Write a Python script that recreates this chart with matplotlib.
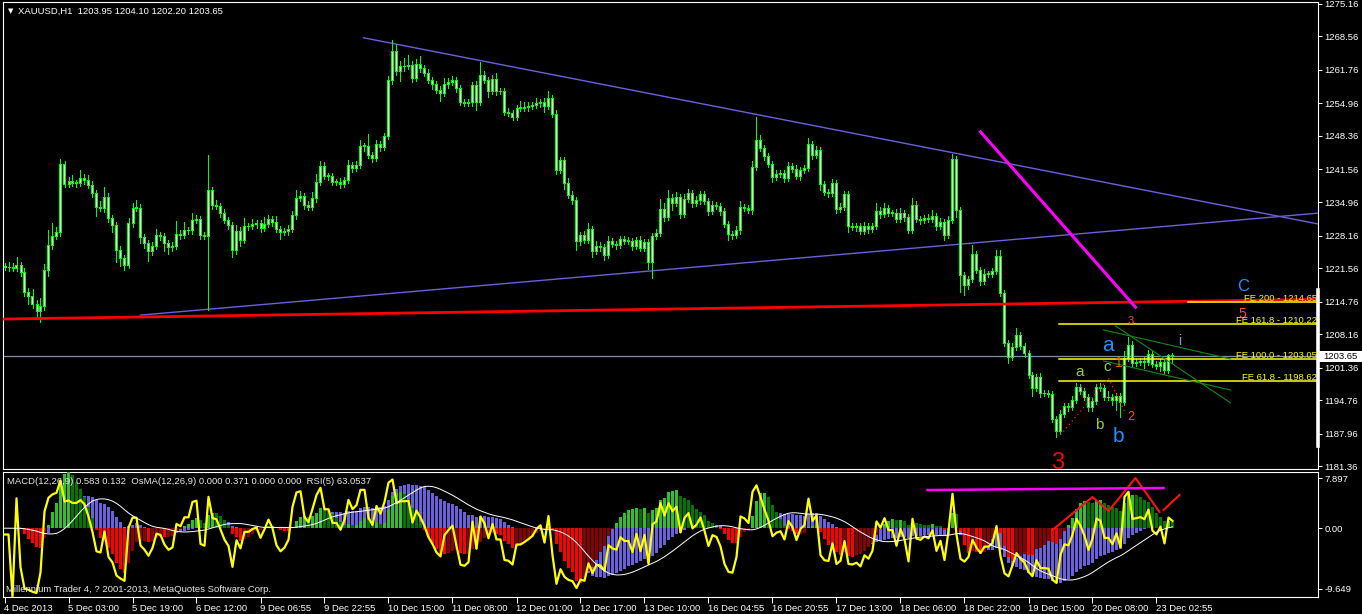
import matplotlib
matplotlib.use("Agg")
import matplotlib.pyplot as plt
from matplotlib.patches import Rectangle
from matplotlib.transforms import blended_transform_factory
import numpy as np
import pandas as pd

# XAUUSD H1, 4 Dec - 23 Dec 2013, closes (one value per bar)
closes = [
    1221.8, 1221.8, 1221.6, 1222.2, 1220.8, 1216.7, 1215.9, 1214.3, 1212.9, 1213.9, 1221.2, 1226.3, 1228.1, 1228.9, 1242.7, 1238.6,
    1239.3, 1238.9, 1238.9, 1239.9, 1239.5, 1238.4, 1236.8, 1234.0, 1233.8, 1236.0, 1231.7, 1230.3, 1225.3, 1223.6, 1222.2, 1230.7,
    1233.8, 1233.8, 1227.9, 1226.7, 1225.0, 1226.1, 1228.3, 1228.1, 1226.7, 1225.9, 1226.1, 1228.5, 1228.3, 1229.3, 1229.3, 1231.3,
    1231.5, 1228.3, 1228.1, 1237.4, 1234.4, 1234.2, 1232.8, 1231.3, 1230.3, 1225.3, 1229.1, 1227.3, 1230.1, 1230.1, 1230.5, 1230.7,
    1229.7, 1230.5, 1231.5, 1230.9, 1229.5, 1228.9, 1229.1, 1229.5, 1232.4, 1235.8, 1236.2, 1234.4, 1234.0, 1235.8, 1239.1, 1242.3,
    1240.3, 1240.3, 1239.1, 1239.1, 1238.6, 1239.5, 1242.5, 1241.9, 1242.5, 1246.4, 1246.4, 1244.5, 1243.9, 1246.8, 1246.2, 1248.4,
    1259.8, 1265.6, 1261.6, 1262.6, 1262.6, 1262.8, 1260.2, 1263.0, 1262.2, 1261.2, 1259.8, 1258.9, 1257.7, 1257.1, 1258.9, 1259.4,
    1259.8, 1258.1, 1255.3, 1255.1, 1255.3, 1258.7, 1255.3, 1260.8, 1259.8, 1257.5, 1260.0, 1257.5, 1257.5, 1253.3, 1253.1, 1252.2,
    1254.1, 1254.1, 1254.3, 1254.5, 1254.7, 1255.1, 1255.3, 1254.5, 1256.1, 1252.9, 1241.5, 1243.5, 1238.9, 1236.4, 1235.4, 1227.1,
    1228.3, 1227.3, 1229.5, 1225.0, 1226.1, 1225.9, 1224.2, 1227.1, 1226.5, 1226.3, 1227.5, 1227.1, 1227.1, 1226.1, 1227.3, 1225.7,
    1226.9, 1222.8, 1228.1, 1228.7, 1233.6, 1232.0, 1235.8, 1234.8, 1236.0, 1232.6, 1235.6, 1236.8, 1234.8, 1235.4, 1236.6, 1235.2,
    1233.2, 1234.4, 1234.2, 1233.2, 1230.5, 1228.5, 1228.3, 1229.3, 1234.0, 1233.8, 1233.4, 1242.1, 1247.6, 1246.0, 1244.3, 1242.7,
    1240.1, 1240.7, 1240.9, 1239.9, 1242.3, 1241.7, 1240.3, 1241.5, 1241.9, 1246.8, 1244.5, 1245.5, 1238.6, 1237.0, 1236.8, 1238.9,
    1233.6, 1234.0, 1236.6, 1230.1, 1229.9, 1230.1, 1229.1, 1230.1, 1229.5, 1230.1, 1233.2, 1232.6, 1233.8, 1232.8, 1232.8, 1231.5,
    1232.8, 1232.0, 1229.3, 1234.4, 1231.5, 1231.3, 1231.7, 1231.5, 1232.2, 1230.1, 1230.9, 1228.3, 1231.3, 1243.7, 1233.4, 1220.2,
    1218.1, 1219.4, 1224.4, 1221.2, 1219.0, 1220.4, 1220.4, 1221.0, 1224.0, 1216.5, 1206.4, 1203.5, 1205.6, 1208.0, 1205.8, 1204.3,
    1199.9, 1197.2, 1199.5, 1196.2, 1196.2, 1196.0, 1190.9, 1188.5, 1192.0, 1193.6, 1193.4, 1194.8, 1197.4, 1196.6, 1195.4, 1193.4,
    1194.6, 1197.4, 1197.2, 1195.4, 1195.4, 1194.8, 1195.6, 1194.4, 1203.3, 1206.0, 1202.3, 1202.5, 1202.7, 1202.5, 1204.1, 1202.1,
    1201.7, 1202.5, 1200.9, 1203.95, 1203.65,
]
first_open = 1221.9

# wick lengths above / below the body (estimated)
wick_up = [
    0.6, 1.0, 0.8, 1.5, 0.6, 0.8, 0.8, 1.4, 0.8, 1.5, 1.2, 3.0, 2.6, 1.0, 1.0, 0.6,
    0.8, 1.2, 0.6, 1.6, 0.8, 1.0, 0.8, 0.6, 1.2, 2.0, 0.8, 0.6, 0.6, 0.8, 0.6, 1.0,
    1.0, 1.5, 0.8, 0.6, 0.6, 0.8, 1.2, 0.6, 0.6, 0.6, 0.8, 2.6, 0.8, 1.6, 0.6, 1.4,
    0.8, 0.6, 0.6, 7.1, 0.6, 1.0, 0.6, 0.8, 0.6, 0.6, 1.2, 0.8, 1.6, 0.6, 1.0, 0.6,
    0.6, 1.4, 0.8, 0.6, 1.2, 0.6, 0.6, 0.8, 0.8, 1.6, 1.0, 0.6, 0.8, 1.2, 1.6, 1.0,
    0.8, 0.6, 0.6, 0.6, 0.8, 0.6, 1.0, 0.6, 0.8, 1.2, 0.6, 2.4, 0.6, 0.8, 0.6, 0.6,
    0.8, 2.3, 1.5, 1.0, 1.5, 2.0, 0.8, 1.0, 1.6, 0.6, 0.8, 0.6, 0.6, 0.8, 1.2, 0.8,
    0.8, 0.6, 0.6, 0.6, 0.6, 0.6, 0.8, 2.6, 0.8, 0.6, 0.8, 1.2, 0.6, 0.6, 0.8, 0.6,
    0.6, 1.4, 1.0, 0.8, 0.6, 1.0, 0.6, 0.8, 1.4, 0.6, 0.8, 0.6, 0.6, 1.0, 0.8, 0.6,
    0.6, 0.8, 1.2, 0.6, 1.0, 0.8, 0.6, 1.0, 0.6, 0.6, 0.6, 0.6, 0.8, 0.6, 0.6, 0.8,
    0.6, 0.6, 0.6, 0.8, 2.0, 1.2, 1.6, 0.8, 1.0, 0.6, 1.0, 0.8, 0.6, 0.8, 0.6, 0.6,
    0.6, 0.8, 0.6, 0.6, 0.6, 0.6, 0.6, 0.8, 1.2, 0.6, 0.6, 1.2, 4.6, 1.0, 0.6, 0.6,
    0.6, 0.8, 0.6, 0.6, 0.8, 0.6, 0.8, 0.6, 0.6, 1.2, 0.6, 0.8, 0.6, 0.6, 0.6, 0.8,
    0.6, 0.8, 0.6, 0.6, 0.6, 0.6, 0.6, 0.8, 0.6, 0.6, 1.6, 0.8, 1.0, 0.6, 0.6, 0.8,
    1.0, 0.6, 0.6, 1.4, 0.8, 0.6, 0.6, 0.8, 1.2, 0.6, 0.8, 0.6, 0.8, 1.0, 0.6, 0.6,
    0.6, 0.6, 1.8, 0.6, 0.6, 1.0, 0.6, 0.6, 1.2, 1.2, 0.6, 0.6, 0.8, 1.4, 0.6, 0.6,
    0.6, 0.6, 0.6, 0.8, 0.6, 0.6, 0.6, 0.6, 0.8, 0.6, 0.6, 0.8, 0.8, 0.6, 0.6, 0.6,
    0.6, 0.6, 0.8, 0.6, 1.2, 0.6, 0.6, 0.6, 1.4, 1.6, 0.8, 0.6, 0.6, 0.8, 0.8, 0.6,
    0.6, 0.6, 0.6, 0.15, 0.45,
]
wick_dn = [
    0.6, 0.8, 0.6, 0.6, 0.8, 0.8, 1.6, 0.8, 1.0, 2.4, 0.8, 1.2, 0.8, 0.6, 0.8, 0.6,
    0.6, 0.6, 0.8, 0.6, 0.8, 0.6, 0.8, 1.8, 0.6, 0.8, 0.8, 1.4, 2.6, 1.6, 1.0, 0.6,
    0.8, 0.6, 1.2, 1.0, 2.0, 0.8, 0.6, 0.8, 1.6, 1.4, 0.8, 0.6, 0.8, 0.6, 0.8, 0.8,
    0.6, 0.8, 0.6, 15.0, 0.8, 0.6, 0.8, 0.6, 0.8, 1.6, 0.8, 1.2, 0.6, 0.8, 0.6, 0.8,
    0.8, 0.6, 0.6, 0.8, 0.6, 1.4, 0.6, 0.8, 0.6, 0.8, 0.6, 0.8, 0.6, 0.6, 0.8, 0.6,
    0.6, 0.8, 0.6, 0.6, 0.8, 0.6, 0.6, 0.8, 0.6, 0.6, 1.0, 0.6, 0.8, 0.6, 0.8, 0.6,
    0.6, 0.8, 0.8, 2.0, 1.0, 0.6, 0.8, 0.6, 0.8, 0.6, 0.6, 1.0, 0.6, 1.6, 0.6, 0.8,
    0.6, 0.8, 0.6, 0.6, 0.6, 0.8, 1.6, 0.6, 0.6, 1.2, 0.6, 0.8, 0.6, 0.6, 0.6, 0.6,
    0.6, 0.6, 0.6, 0.8, 0.6, 0.6, 0.8, 1.2, 0.6, 0.6, 0.8, 0.6, 1.2, 0.6, 0.8, 1.8,
    0.8, 0.6, 0.6, 1.2, 0.6, 0.8, 1.0, 0.6, 0.6, 0.8, 0.6, 0.6, 0.6, 0.8, 0.6, 0.6,
    0.6, 1.4, 3.2, 0.6, 0.6, 0.8, 0.6, 1.4, 0.6, 0.8, 0.6, 0.6, 0.8, 0.6, 0.8, 0.6,
    0.8, 0.6, 0.6, 0.8, 0.6, 1.2, 0.8, 0.6, 0.8, 0.6, 0.6, 0.8, 0.6, 0.6, 0.8, 0.6,
    1.0, 0.6, 0.6, 0.8, 0.6, 0.6, 0.6, 0.8, 0.6, 0.6, 0.8, 0.6, 1.2, 0.6, 0.8, 0.6,
    0.8, 0.6, 0.6, 1.2, 0.6, 0.8, 0.6, 0.6, 0.8, 0.6, 0.6, 0.8, 0.6, 0.6, 0.6, 0.6,
    0.6, 0.8, 0.6, 0.6, 0.6, 0.8, 0.6, 0.6, 0.6, 0.8, 0.6, 1.0, 0.6, 0.6, 1.5, 3.5,
    2.0, 0.8, 0.6, 0.6, 0.8, 0.6, 0.6, 0.6, 0.6, 0.6, 0.6, 1.2, 0.6, 0.6, 0.6, 0.8,
    0.6, 1.6, 0.6, 0.8, 0.6, 0.6, 0.6, 1.2, 0.6, 0.6, 0.8, 0.6, 0.6, 0.6, 0.6, 0.8,
    0.8, 0.6, 0.6, 0.6, 0.6, 1.0, 2.0, 3.0, 0.6, 0.6, 0.8, 0.6, 0.6, 1.2, 0.6, 0.6,
    0.6, 1.0, 0.6, 0.6, 1.45,
]

time_ticks = list(range(0, 289, 16))
time_labels = ["4 Dec 2013", "5 Dec 03:00", "5 Dec 19:00", "6 Dec 12:00", "9 Dec 06:55",
               "9 Dec 22:55", "10 Dec 15:00", "11 Dec 08:00", "12 Dec 01:00", "12 Dec 17:00",
               "13 Dec 10:00", "16 Dec 04:55", "16 Dec 20:55", "17 Dec 13:00", "18 Dec 06:00",
               "18 Dec 22:00", "19 Dec 15:00", "20 Dec 08:00", "23 Dec 02:55"]
price_ticks = [1275.16, 1268.56, 1261.76, 1254.96, 1248.36, 1241.56, 1234.96, 1228.16,
               1221.56, 1214.76, 1208.16, 1201.36, 1194.76, 1187.96, 1181.36]
macd_ticks = [7.897, 0.0, -9.649]
macd_tick_labels = ["7.897", "0.00", "-9.649"]
bid = 1203.65

fe_levels = [1214.65, 1210.22, 1203.05, 1198.62]
fe_names = ["FE 200", "FE 161.8", "FE 100.0", "FE 61.8"]

plt.rcParams["font.family"] = ["Liberation Sans", "DejaVu Sans"]

W, H = 1362, 614
XL = (-0.375, 328.375)   # 4 px per bar, bar centres on pixel centres
fig = plt.figure(figsize=(W / 100, H / 100), dpi=100, facecolor="black")
ax = fig.add_axes([3 / W, 1 - 469 / H, 1315 / W, 467 / H], facecolor="black")
ax2 = fig.add_axes([3 / W, 1 - 597 / H, 1315 / W, 125 / H], facecolor="black")

n = len(closes)
x = np.arange(n)
c = np.array(closes)
o = np.concatenate([[first_open], c[:-1]])
hi = np.maximum(o, c) + np.array(wick_up)
lo = np.minimum(o, c) - np.array(wick_dn)

LIME = "#00ff00"
SLATE = "#6c5fdc"
px = 0.72  # one pixel in points

# ---- price panel ----
ax.axhline(bid, color="#8090a8", lw=0.9, zorder=1)
ax.vlines(x, lo, hi, color=LIME, lw=px, zorder=3, antialiased=False)
ax.bar(x, np.maximum(np.abs(c - o), 0.05), bottom=np.minimum(o, c), width=0.5,
       facecolor="white", edgecolor=LIME, lw=px, zorder=4, antialiased=False)

# trend lines
ax.plot([89.75, 328.4], [1268.3, 1230.5], color=SLATE, lw=1.0, zorder=2)
ax.plot([34, 328.4], [1212.0, 1232.7], color=SLATE, lw=1.0, zorder=2)
ax.plot([0, 328.4], [1211.2, 1215.2], color="#ff0000", lw=2.0, zorder=5)
ax.plot([244, 282.75], [1249.2, 1213.6], color="#ff00ff", lw=2.2, zorder=5)

# fibo expansion levels
ax.plot([296, 328.4], [fe_levels[0]] * 2, color="#ffff00", lw=1.1, zorder=5)
for lvl in fe_levels[1:]:
    ax.plot([263.75, 328.4], [lvl, lvl], color="#ffff00", lw=1.1, zorder=5)

# channel lines near the end
dg = "#138a13"
ax.plot([274.75, 306.5], [1209.0, 1203.1], color=dg, lw=0.8, zorder=5)
ax.plot([277.75, 306.5], [1209.8, 1194.2], color=dg, lw=0.8, zorder=5)
ax.plot([274.75, 306.5], [1202.7, 1196.8], color=dg, lw=0.8, zorder=5)
ax.plot([264, 276, 280.25], [1187.7, 1199.2, 1192.1], color="#ff2020", lw=0.9,
        ls=(0, (1, 2.5)), zorder=6)

# wave labels
BLUE = "#1e90ff"
OLIVE = "#9acd32"
ORED = "#ff4a10"
ax.text(263.3, 1182.0, "3", color="#ff0000", fontsize=17, ha="center", va="center", zorder=7)
ax.text(309.75, 1217.9, "C", color=BLUE, fontsize=12, ha="center", va="center", zorder=7)
ax.text(309.5, 1212.3, "5", color=ORED, fontsize=10, ha="center", va="center", zorder=6)
ax.text(281.5, 1210.8, "3", color=ORED, fontsize=8, ha="center", va="center", zorder=7)
ax.text(275.75, 1205.9, "a", color=BLUE, fontsize=15, ha="center", va="center", zorder=7)
ax.text(293.75, 1206.8, "i", color="#7f9fcf", fontsize=10, ha="center", va="center", zorder=7)
ax.text(278.5, 1202.3, "1", color=ORED, fontsize=10, ha="center", va="center", zorder=7)
ax.text(275.75, 1201.4, "c", color=OLIVE, fontsize=11, ha="center", va="center", zorder=7)
ax.text(268.75, 1200.4, "a", color=OLIVE, fontsize=11, ha="center", va="center", zorder=7)
ax.text(273.75, 1189.7, "b", color=OLIVE, fontsize=11, ha="center", va="center", zorder=7)
ax.text(278.5, 1187.4, "b", color=BLUE, fontsize=15, ha="center", va="center", zorder=7)
ax.text(281.5, 1191.3, "2", color=ORED, fontsize=9, ha="center", va="center", zorder=7)

for lvl, name in zip(fe_levels, fe_names):
    ax.text(328.2, lvl + 0.25, f"{name} - {lvl:.2f}", color="#ffff00", fontsize=6.8,
            ha="right", va="baseline", zorder=8)

ax.set_xlim(*XL)
ax.set_ylim(1180.76, 1275.56)
ax.set_xticks([])
ax.yaxis.tick_right()
ax.set_yticks(price_ticks)
ax.set_yticklabels([f"{p:.2f}" for p in price_ticks])
ax.tick_params(axis="y", colors="white", labelsize=6.8, length=3, width=0.7, pad=1.5)
for s in ax.spines.values():
    s.set_color("white")
    s.set_linewidth(0.8)

# current price marker on the scale
tr = blended_transform_factory(ax.transAxes, ax.transData)
ax.plot([1.0, 1.0], [1185.4, 1217.1], color="white", lw=2.6, transform=tr, clip_on=False, zorder=9)
ax.add_patch(Rectangle((1.0, bid - 1.15), 44 / 1315, 2.3, transform=tr, facecolor="white",
                       edgecolor="none", clip_on=False, zorder=9))
ax.text(1.0 + 5 / 1315, bid, f"{bid:.2f}", transform=tr, color="black", fontsize=6.8,
        ha="left", va="center", zorder=10, clip_on=False)

# ---- MACD / OsMA / RSI panel ----
def ema(v, span):
    a = 2.0 / (span + 1)
    out = np.empty(len(v))
    out[0] = v[0]
    for i in range(1, len(v)):
        out[i] = a * v[i] + (1 - a) * out[i - 1]
    return out

macd = ema(c, 12) - ema(c, 26)
signal = pd.Series(macd).rolling(9, min_periods=1).mean().values
osma = macd - signal
delta = np.diff(c, prepend=c[0])
avg_up = pd.Series(np.clip(delta, 0, None)).ewm(alpha=1 / 5, adjust=False).mean().values
avg_dn = pd.Series(np.clip(-delta, 0, None)).ewm(alpha=1 / 5, adjust=False).mean().values
rsi = np.where(avg_dn > 0, 100 - 100 / (1 + avg_up / np.where(avg_dn > 0, avg_dn, 1)), 50.0)

y_lo, y_hi = -10.92, 8.92
ax2.bar(x, macd, width=0.75, color=SLATE, lw=0, zorder=1, antialiased=False)

ax_os = ax2.twinx()
prev = np.concatenate([[osma[0]], osma[:-1]])
os_cols = np.where(osma >= 0, np.where(osma >= prev, "#2fc02f", "#007800"),
                   np.where(osma < prev, "#ff0000", "#8b0000"))
ax_os.bar(x, osma, width=0.75, color=os_cols, lw=0, antialiased=False)
k = max(osma.max() / y_hi, osma.min() / y_lo)
ax_os.set_ylim(y_lo * k, y_hi * k)
ax_os.axis("off")

ax_rsi = ax2.twinx()
ax_rsi.plot(x, rsi, color="#ffff00", lw=1.6)
ax_rsi.set_ylim(0, 100)
ax_rsi.axis("off")

ax_sig = ax2.twinx()
ax_sig.plot(x, signal, color="white", lw=0.7)
ax_sig.plot([262, 272, 276, 282.75, 288.75], [-0.29, 4.95, 2.73, 7.97, 2.57], color="#ff1010", lw=1.5)
ax_sig.plot([289.75, 293.75], [2.89, 5.27], color="#ff1010", lw=1.5)
ax_sig.plot([230.75, 289.75], [6.06, 6.38], color="#ff00ff", lw=1.8)
ax_sig.set_ylim(y_lo, y_hi)
ax_sig.axis("off")

for a in (ax2, ax_os, ax_rsi, ax_sig):
    a.set_xlim(*XL)
ax2.set_ylim(y_lo, y_hi)
ax2.yaxis.tick_right()
ax2.set_yticks(macd_ticks)
ax2.set_yticklabels(macd_tick_labels)
ax2.tick_params(axis="y", colors="white", labelsize=6.8, length=3, width=0.7, pad=1.5)
ax2.set_xticks(time_ticks)
ax2.set_xticklabels(time_labels, ha="left")
ax2.tick_params(axis="x", colors="white", labelsize=6.8, length=4, width=0.7, pad=1)
for s in ax2.spines.values():
    s.set_color("white")
    s.set_linewidth(0.8)

# captions
fig.text(8 / W, 1 - 11 / H, "\u25bc", color="white", fontsize=5, va="center",
         family=["DejaVu Sans"])
fig.text(18 / W, 1 - 11 / H, "XAUUSD,H1  1203.95 1204.10 1202.20 1203.65", color="white",
         fontsize=6.8, va="center")
fig.text(7 / W, 1 - 481 / H,
         "MACD(12,26,9) 0.583 0.132  OsMA(12,26,9) 0.000 0.371 0.000 0.000  RSI(5) 63.0537",
         color="#e8e8e8", fontsize=6.8, va="center")
fig.text(6 / W, 1 - 589 / H, "Millennium Trader 4, ? 2001-2013, MetaQuotes Software Corp.",
         color="#e8e8e8", fontsize=6.8, va="center")

fig.savefig("out.png", dpi=100, facecolor="black")
